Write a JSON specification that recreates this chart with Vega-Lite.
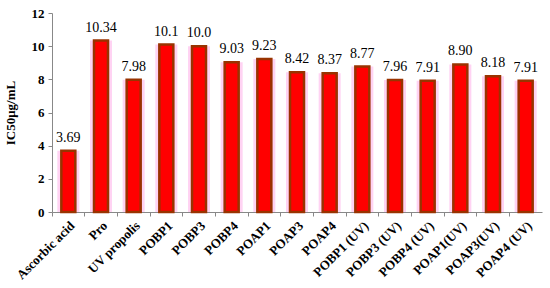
{
  "$schema": "https://vega.github.io/schema/vega-lite/v6.json",
  "width": 490,
  "height": 199,
  "autosize": {"type": "none"},
  "padding": {"left": 52, "top": 13, "right": 8, "bottom": 76},
  "background": "white",
  "config": {"view": {"stroke": null}, "font": "Liberation Serif"},
  "data": {"values": [
    {"sample": "Ascorbic acid", "ic50": 3.69, "label": "3.69"},
    {"sample": "Pro", "ic50": 10.34, "label": "10.34"},
    {"sample": "UV propolis", "ic50": 7.98, "label": "7.98"},
    {"sample": "POBP1", "ic50": 10.1, "label": "10.1"},
    {"sample": "POBP3", "ic50": 10.0, "label": "10.0"},
    {"sample": "POBP4", "ic50": 9.03, "label": "9.03"},
    {"sample": "POAP1", "ic50": 9.23, "label": "9.23"},
    {"sample": "POAP3", "ic50": 8.42, "label": "8.42"},
    {"sample": "POAP4", "ic50": 8.37, "label": "8.37"},
    {"sample": "POBP1 (UV)", "ic50": 8.77, "label": "8.77"},
    {"sample": "POBP3 (UV)", "ic50": 7.96, "label": "7.96"},
    {"sample": "POBP4 (UV)", "ic50": 7.91, "label": "7.91"},
    {"sample": "POAP1(UV)", "ic50": 8.90, "label": "8.90"},
    {"sample": "POAP3(UV)", "ic50": 8.18, "label": "8.18"},
    {"sample": "POAP4 (UV)", "ic50": 7.91, "label": "7.91"}
  ]},
  "encoding": {
    "x": {
      "field": "sample", "type": "nominal", "sort": null,
      "scale": {"paddingInner": 0, "paddingOuter": 0},
      "axis": {
        "title": null, "labelAngle": -45, "labelAlign": "right", "labelBaseline": "top",
        "labelFont": "Liberation Serif", "labelFontWeight": "bold", "labelFontSize": 13,
        "labelColor": "black", "labelPadding": 3,
        "bandPosition": 0, "domainColor": "#888888", "tickColor": "#888888", "tickSize": 4
      }
    },
    "y": {
      "field": "ic50", "type": "quantitative",
      "scale": {"domain": [0, 12], "nice": false},
      "axis": {
        "title": "IC50μg/mL", "titleFont": "Liberation Serif", "titleFontWeight": "bold",
        "titleFontSize": 13, "titleColor": "black", "titlePadding": 14,
        "values": [0, 2, 4, 6, 8, 10, 12], "grid": false,
        "labelFont": "Liberation Serif", "labelFontWeight": "bold", "labelFontSize": 13,
        "labelColor": "black", "labelPadding": 4,
        "domainColor": "#888888", "tickColor": "#888888", "tickSize": 4
      }
    }
  },
  "layer": [
    {"mark": {"type": "bar", "width": 22, "color": "#ffd3f3"}},
    {"mark": {"type": "bar", "width": 14, "color": "#ff0000", "stroke": "#993300", "strokeWidth": 2.5}},
    {"mark": {"type": "text", "dy": -13, "fontSize": 14, "font": "Liberation Serif", "color": "black"},
     "encoding": {"text": {"field": "label"}}}
  ]
}
